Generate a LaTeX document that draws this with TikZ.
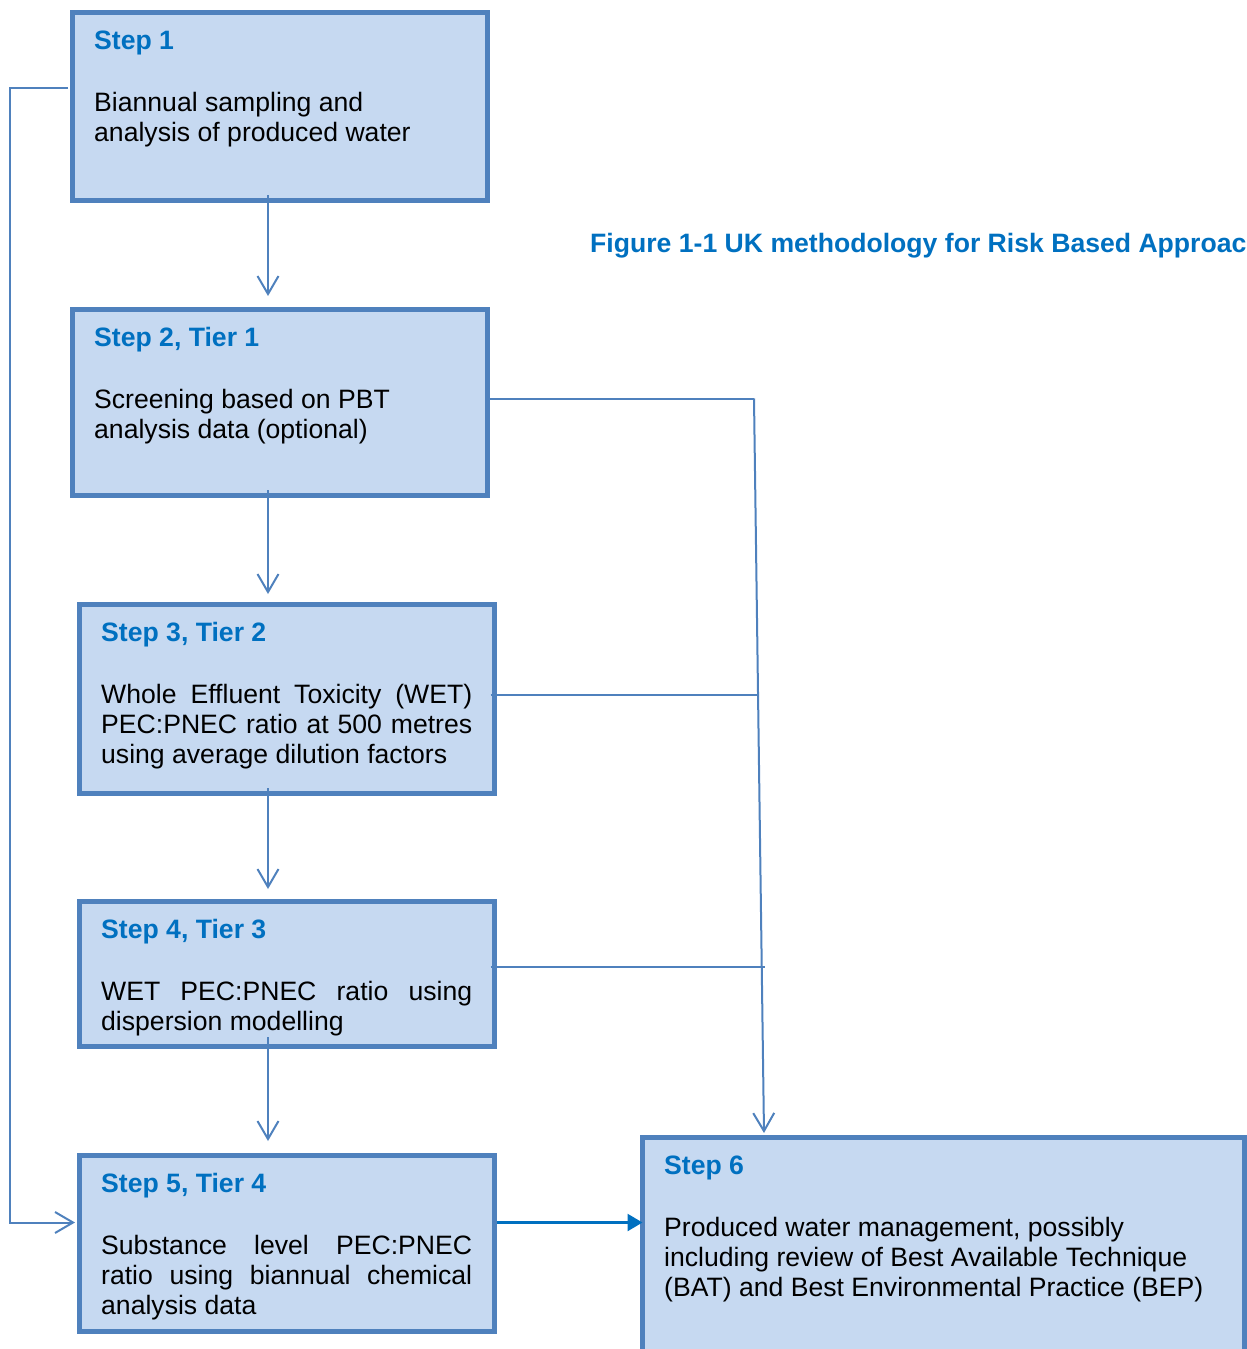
\documentclass[tikz,border=0pt]{standalone}
\usepackage{fontspec}
\setmainfont{Liberation Sans}
\usetikzlibrary{arrows.meta}
\definecolor{bord}{HTML}{4F81BD}
\definecolor{boxfill}{HTML}{C6D9F1}
\definecolor{titleblue}{HTML}{0070C0}
\begin{document}
\begin{tikzpicture}[x=1pt,y=-1pt,
  stepbox/.style={draw=bord, fill=boxfill, line width=5pt, rectangle, inner sep=0pt, outer sep=0pt, anchor=north west, minimum width=415pt},
  ttl/.style={anchor=base west, inner sep=0pt, text=titleblue, font=\fontsize{26.6}{30}\selectfont\bfseries},
  body/.style={anchor=base west, inner sep=0pt, font=\fontsize{26.6}{30}\selectfont},
  conn/.style={draw=bord, line width=2pt},
  barb/.style={-{Straight Barb[length=18pt,width=21pt]}},
  solidtip/.style={draw=titleblue, line width=2.5pt, -{Triangle[length=15pt,width=17pt]}}
]
\useasboundingbox (0,0) rectangle (1247,1349);
\clip (0,0) rectangle (1247,1349);

% boxes
\node[stepbox, minimum height=188pt] (s1) at (72.5,12.5) {};
\node[stepbox, minimum height=186pt] (s2) at (72.5,309.5) {};
\node[stepbox, minimum height=189pt] (s3) at (79.5,604.5) {};
\node[stepbox, minimum height=145pt] (s4) at (79.5,901.5) {};
\node[stepbox, minimum height=176pt] (s5) at (79.5,1155.5) {};
\node[stepbox, minimum width=601.5pt, minimum height=300pt] (s6) at (642.5,1137.5) {};

% named points for free ends / bends
\coordinate (j2) at (754,398.5);
\coordinate (m3) at (757,694.5);
\coordinate (m4) at (765,967);

% vertical arrows
\draw[conn, barb] ([xshift=-12pt,yshift=5.5pt]s1.south) -- ([xshift=-12pt,yshift=13.5pt]s2.north);
\draw[conn, barb] ([xshift=-12pt,yshift=5.5pt]s2.south) -- ([xshift=-19pt,yshift=10.5pt]s3.north);
\draw[conn, barb] ([xshift=-19pt,yshift=5.5pt]s3.south) -- ([xshift=-19pt,yshift=12.5pt]s4.north);
\draw[conn, barb] ([xshift=-19pt,yshift=9.5pt]s4.south) -- ([xshift=-19pt,yshift=14.5pt]s5.north);

% left feedback loop
\draw[conn, barb] ([xshift=-4.5pt,yshift=18.5pt]s1.west) -- ++(-58,0) |- ([xshift=-4.5pt,yshift=21pt]s5.west);

% right collector to step 6
\draw[conn] ([xshift=2.5pt,yshift=4pt]s2.east) -- (j2);
\draw[conn, barb] (j2) -- ([xshift=-179.25pt,yshift=4.5pt]s6.north);
\draw[conn] ([xshift=-4pt,yshift=4.5pt]s3.east) -- (m3);
\draw[conn] ([xshift=-4pt,yshift=7pt]s4.east) -- (m4);

% step 5 to step 6
\draw[solidtip] ([xshift=2.5pt,yshift=21pt]s5.east) -- ([yshift=21pt]s5.east -| s6.west);

% texts
\node[ttl] (t1) at (94,49) {Step 1};
\node[body] (b1) at (94,111) {\parbox[t]{390pt}{\raggedright Biannual sampling and\\analysis of produced water}};

\node[ttl] (t2) at (94,346) {Step 2, Tier 1};
\node[body] (b2) at (94,408) {\parbox[t]{390pt}{\raggedright Screening based on PBT\\analysis data (optional)}};

\node[ttl] (t3) at (101,641.5) {Step 3, Tier 2};
\node[body] (b3) at (101,703.5) {\parbox[t]{371pt}{Whole Effluent Toxicity (WET)\linebreak PEC:PNEC ratio at 500 metres\linebreak using average dilution factors}};

\node[ttl] (t4) at (101,938) {Step 4, Tier 3};
\node[body] (b4) at (101,1000) {\parbox[t]{371pt}{WET PEC:PNEC ratio using\linebreak dispersion modelling}};

\node[ttl] (t5) at (101,1192) {Step 5, Tier 4};
\node[body] (b5) at (101,1254) {\parbox[t]{371pt}{Substance level PEC:PNEC\linebreak ratio using biannual chemical\linebreak analysis data}};

\node[ttl] (t6) at (664,1174) {Step 6};
\node[body] (b6) at (664,1236) {\parbox[t]{570pt}{\raggedright Produced water management, possibly\\including review of Best Available Technique\\(BAT) and Best Environmental Practice (BEP)}};

% caption
\node[ttl] (cap) at (590,252) {Figure 1-1 UK methodology for Risk Based Approac};
\end{tikzpicture}
\end{document}
